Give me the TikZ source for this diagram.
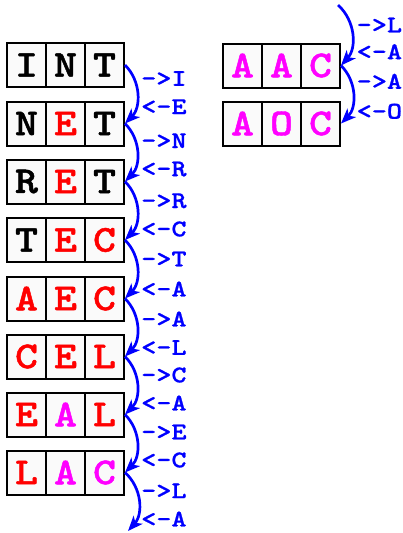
\documentclass[tikz,border=0pt]{standalone}
\usepackage{fontspec}
\newfontfamily\courbox{lmmonolt10-bold.otf}[FakeStretch=1.15,FakeBold=1.2]
\newfontfamily\courlab{lmmonolt10-bold.otf}[FakeStretch=1.2,FakeBold=0.8]
\usetikzlibrary{arrows.meta}
\definecolor{arrowblue}{RGB}{0,0,255}
\definecolor{cred}{RGB}{255,0,0}
\definecolor{cmag}{RGB}{255,0,255}
\definecolor{cellbg}{RGB}{250,250,250}
\begin{document}
\begin{tikzpicture}[x=1pt,y=-1pt,
 cell/.style={draw=black, line width=2pt, fill=cellbg, minimum width=39pt, minimum height=44pt, inner sep=0pt, font=\courbox\fontsize{38}{38}\selectfont},
 k/.style={cell,text=black},
 r/.style={cell,text=cred},
 m/.style={cell,text=cmag},
 lab/.style={anchor=west, inner sep=0pt, text=arrowblue, font=\courlab\fontsize{24}{24}\selectfont},
 arr/.style={draw=arrowblue, line width=2.7pt, -{Stealth[length=15pt,width=12pt,inset=4pt]}, bend left=45}]
\useasboundingbox (0,0) rectangle (403,533);
% left column
\node[k] (a1) at (26.5,65) {I}; \node[k] (a2) at (65.5,65) {N}; \node[k] (a3) at (104.5,65) {T};
\node[k] (b1) at (26.5,123.5) {N}; \node[r] (b2) at (65.5,123.5) {E}; \node[k] (b3) at (104.5,123.5) {T};
\node[k] (c1) at (26.5,181.5) {R}; \node[r] (c2) at (65.5,181.5) {E}; \node[k] (c3) at (104.5,181.5) {T};
\node[k] (d1) at (26.5,240) {T}; \node[r] (d2) at (65.5,240) {E}; \node[r] (d3) at (104.5,240) {C};
\node[r] (e1) at (26.5,298.5) {A}; \node[r] (e2) at (65.5,298.5) {E}; \node[r] (e3) at (104.5,298.5) {C};
\node[r] (f1) at (26.5,356.5) {C}; \node[r] (f2) at (65.5,356.5) {E}; \node[r] (f3) at (104.5,356.5) {L};
\node[r] (g1) at (26.5,414.5) {E}; \node[m] (g2) at (65.5,414.5) {A}; \node[r] (g3) at (104.5,414.5) {L};
\node[r] (h1) at (26.5,472.5) {L}; \node[m] (h2) at (65.5,472.5) {A}; \node[m] (h3) at (104.5,472.5) {C};
% right column
\node[m] (p1) at (242.5,65.5) {A}; \node[m] (p2) at (281.5,65.5) {A}; \node[m] (p3) at (320.5,65.5) {C};
\node[m] (q1) at (242.5,123.5) {A}; \node[m] (q2) at (281.5,123.5) {O}; \node[m] (q3) at (320.5,123.5) {C};
\coordinate (top) at (338,5);
\coordinate (bot) at (128,531);
% arrows
\draw[arr] (a3.east) to (b3.east);
\draw[arr] (b3.east) to (c3.east);
\draw[arr] (c3.east) to (d3.east);
\draw[arr] (d3.east) to (e3.east);
\draw[arr] (e3.east) to (f3.east);
\draw[arr] (f3.east) to (g3.east);
\draw[arr] (g3.east) to (h3.east);
\draw[arr] (h3.east) to (bot);
\draw[arr] (top) to (p3.east);
\draw[arr] (p3.east) to (q3.east);
% labels left
\node[lab] (l1) at (141,78.5) {->I};
\node[lab] (l2) at (141,106.7) {<-E};
\node[lab] (l3) at (141,140.7) {->N};
\node[lab] (l4) at (141,169) {<-R};
\node[lab] (l5) at (141,200.8) {->R};
\node[lab] (l6) at (141,229) {<-C};
\node[lab] (l7) at (141,259) {->T};
\node[lab] (l8) at (141,289) {<-A};
\node[lab] (l9) at (141,319) {->A};
\node[lab] (l10) at (141,347.5) {<-L};
\node[lab] (l11) at (141,375) {->C};
\node[lab] (l12) at (141,403) {<-A};
\node[lab] (l13) at (141,432) {->E};
\node[lab] (l14) at (141,460) {<-C};
\node[lab] (l15) at (141,490.8) {->L};
\node[lab] (l16) at (141,519) {<-A};
% labels right
\node[lab] (r1) at (356.5,25) {->L};
\node[lab] (r2) at (356.5,51.7) {<-A};
\node[lab] (r3) at (356.5,81.3) {->A};
\node[lab] (r4) at (356.5,111.3) {<-O};
\end{tikzpicture}
\end{document}
